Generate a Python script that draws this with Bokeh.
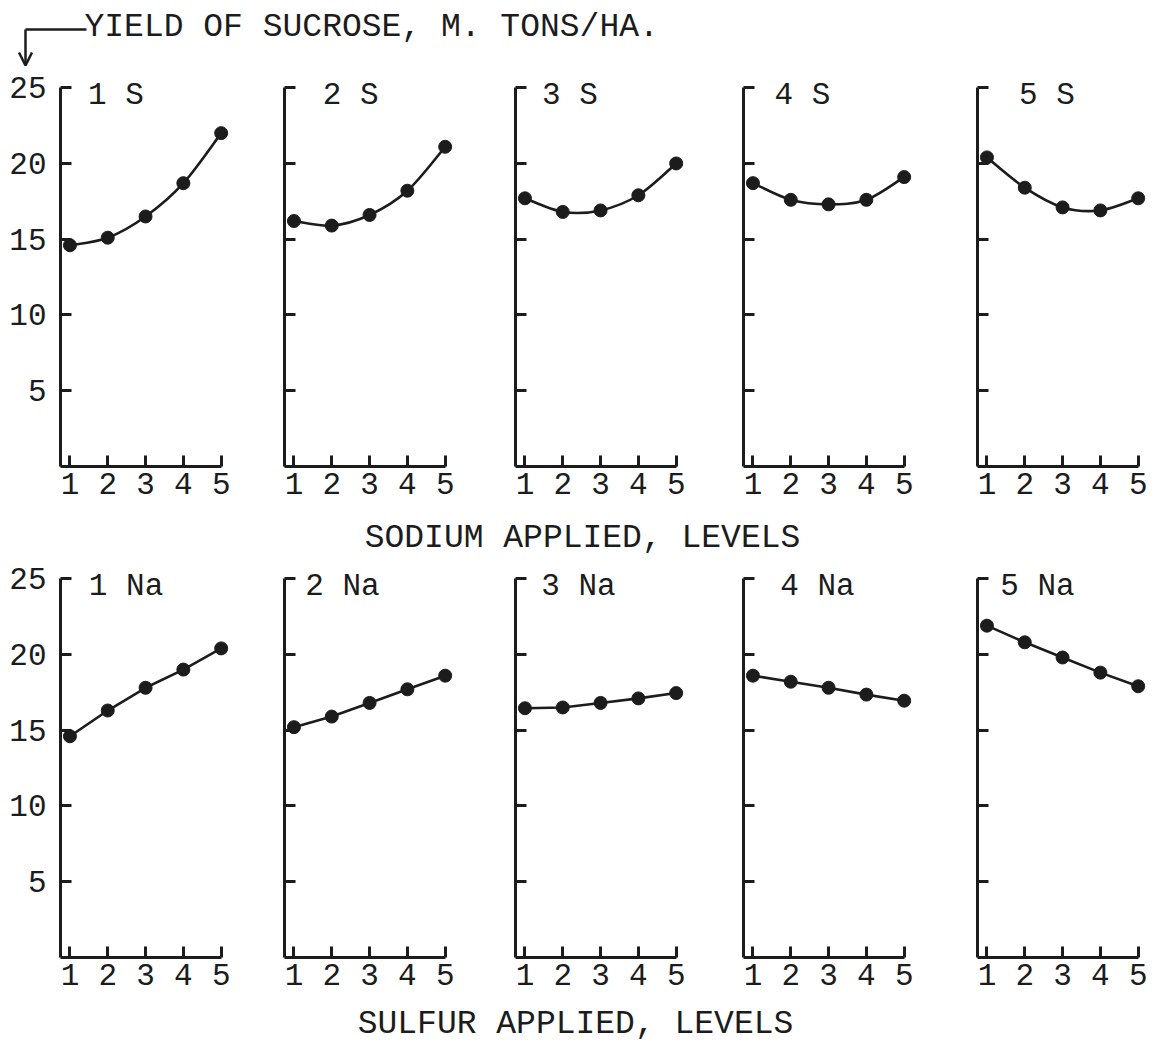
from bokeh.plotting import figure
from bokeh.layouts import column, row
from bokeh.models import Range1d, FixedTicker, Arrow, OpenHead, ColumnDataSource
from bokeh.core.properties import value
from bokeh.embed import file_html
from bokeh.resources import INLINE

# ---------------- data ----------------
levels = [1, 2, 3, 4, 5]
y_ticks = [5, 10, 15, 20, 25]
x_tick_labels = ["1", "2", "3", "4", "5"]

title_text = "YIELD OF SUCROSE, M. TONS/HA."
top_xlabel = "SODIUM APPLIED, LEVELS"
bottom_xlabel = "SULFUR APPLIED, LEVELS"

sulfur_panel_names = ["1 S", "2 S", "3 S", "4 S", "5 S"]
sodium_panel_names = ["1 Na", "2 Na", "3 Na", "4 Na", "5 Na"]

# yield vs sodium level, at each sulfur level
s1_yield = [14.6, 15.1, 16.5, 18.7, 22.0]
s2_yield = [16.2, 15.9, 16.6, 18.2, 21.1]
s3_yield = [17.7, 16.8, 16.9, 17.9, 20.0]
s4_yield = [18.7, 17.6, 17.3, 17.6, 19.1]
s5_yield = [20.4, 18.4, 17.1, 16.9, 17.7]

# yield vs sulfur level, at each sodium level
na1_yield = [14.6, 16.3, 17.8, 19.0, 20.4]
na2_yield = [15.2, 15.9, 16.8, 17.7, 18.6]
na3_yield = [16.45, 16.5, 16.8, 17.1, 17.45]
na4_yield = [18.6, 18.2, 17.8, 17.35, 16.95]
na5_yield = [21.9, 20.8, 19.8, 18.8, 17.9]

# ---------------- layout / style ----------------
FONT = "Liberation Mono"
INK = "#1c1c1c"
FRAME_W = 169
FRAME_H = 397
Y_END = 26.2
LEFT_B = [60, 52, 52, 52, 52]
RIGHT_B = [3, 10, 7, 13, 3]
BOTTOM_B = 44
X_START = 0.75
top_label_x = [1.48, 1.76, 1.45, 1.57, 1.85]
bottom_label_x = [1.5, 1.3, 1.43, 1.72, 1.35]
LABEL_Y = 24.5
PAGE_W = 1150


def smooth_segments(xs, ys):
    """Cubic Bezier segments (Catmull-Rom style) passing through the data points."""
    n = len(xs)
    px = [xs[0]] + list(xs) + [xs[-1]]
    py = [ys[0]] + list(ys) + [ys[-1]]
    seg = dict(x0=[], y0=[], x1=[], y1=[], cx0=[], cy0=[], cx1=[], cy1=[])
    for i in range(n - 1):
        j = i + 1
        seg["x0"].append(px[j]); seg["y0"].append(py[j])
        seg["x1"].append(px[j + 1]); seg["y1"].append(py[j + 1])
        seg["cx0"].append(px[j] + (px[j + 1] - px[j - 1]) / 6.0)
        seg["cy0"].append(py[j] + (py[j + 1] - py[j - 1]) / 6.0)
        seg["cx1"].append(px[j + 1] - (px[j + 2] - px[j]) / 6.0)
        seg["cy1"].append(py[j + 1] - (py[j + 2] - py[j]) / 6.0)
    return seg


def panel(vals, name, name_x, idx, curved):
    p = figure(frame_width=FRAME_W, frame_height=FRAME_H,
               min_border_left=LEFT_B[idx], min_border_right=RIGHT_B[idx],
               min_border_top=0, min_border_bottom=BOTTOM_B,
               x_range=Range1d(X_START, 5.22), y_range=Range1d(0, Y_END),
               output_backend="svg", toolbar_location=None, tools="")
    p.xgrid.visible = False
    p.ygrid.visible = False
    p.outline_line_color = None
    p.background_fill_color = "white"
    p.border_fill_color = "white"

    xa = p.xaxis[0]
    xa.ticker = FixedTicker(ticks=levels)
    xa.major_label_overrides = {lv: lab for lv, lab in zip(levels, x_tick_labels)}
    xa.bounds = (X_START, 5)
    ya = p.yaxis[0]
    ya.ticker = FixedTicker(ticks=y_ticks)
    ya.bounds = (0, 25)
    if idx != 0:
        ya.major_label_overrides = {t: "" for t in y_ticks}
    for ax in (xa, ya):
        ax.axis_line_width = 3
        ax.axis_line_color = INK
        ax.major_tick_line_width = 3
        ax.major_tick_line_color = INK
        ax.major_tick_in = 11
        ax.major_tick_out = 0
        ax.minor_tick_line_color = None
        ax.major_label_text_font = FONT
        ax.major_label_text_font_size = "31px"
        ax.major_label_text_color = INK
    xa.major_label_standoff = 6
    ya.major_label_standoff = 14

    src = ColumnDataSource(dict(x=levels, y=vals))
    if curved:
        bsrc = ColumnDataSource(smooth_segments(levels, vals))
        p.bezier(x0="x0", y0="y0", x1="x1", y1="y1", cx0="cx0", cy0="cy0",
                 cx1="cx1", cy1="cy1", source=bsrc, line_color=INK, line_width=2.6)
    else:
        p.line("x", "y", source=src, line_color=INK, line_width=2.6)
    p.scatter("x", "y", source=src, size=13, color=INK)

    p.text(x=[name_x], y=[LABEL_Y], text=[name], text_font=value(FONT),
           text_font_size="31px", text_color=INK, text_align="left",
           text_baseline="middle")
    return p


def text_fig(h):
    p = figure(width=PAGE_W, height=h, x_range=Range1d(0, PAGE_W), y_range=Range1d(h, 0),
               min_border=0, output_backend="svg", toolbar_location=None, tools="")
    p.axis.visible = False
    p.xgrid.visible = False
    p.ygrid.visible = False
    p.outline_line_color = None
    p.background_fill_color = "white"
    p.border_fill_color = "white"
    return p


header = text_fig(69)
header.text(x=[84], y=[27], text=[title_text], text_font=value(FONT),
            text_font_size="33px", text_color=INK, text_align="left", text_baseline="middle")
header.line(x=[25, 86], y=[29, 29], line_color=INK, line_width=2.5)
header.add_layout(Arrow(end=OpenHead(size=13, line_width=2.5, line_color=INK),
                        x_start=25, y_start=29, x_end=25, y_end=65,
                        line_width=2.5, line_color=INK))

top_series = [s1_yield, s2_yield, s3_yield, s4_yield, s5_yield]
bottom_series = [na1_yield, na2_yield, na3_yield, na4_yield, na5_yield]

top_row = row([panel(v, n, lx, i, True)
               for i, (v, n, lx) in enumerate(zip(top_series, sulfur_panel_names, top_label_x))])
bottom_row = row([panel(v, n, lx, i, False)
                  for i, (v, n, lx) in enumerate(zip(bottom_series, sodium_panel_names, bottom_label_x))])

lab1 = text_fig(50)
lab1.text(x=[582], y=[28], text=[top_xlabel], text_font=value(FONT), text_font_size="33px",
          text_color=INK, text_align="center", text_baseline="middle")
lab2 = text_fig(44)
lab2.text(x=[575], y=[23], text=[bottom_xlabel], text_font=value(FONT), text_font_size="33px",
          text_color=INK, text_align="center", text_baseline="middle")

layout = column([header, top_row, lab1, bottom_row, lab2])
open("out.html", "w").write(file_html(layout, INLINE))
